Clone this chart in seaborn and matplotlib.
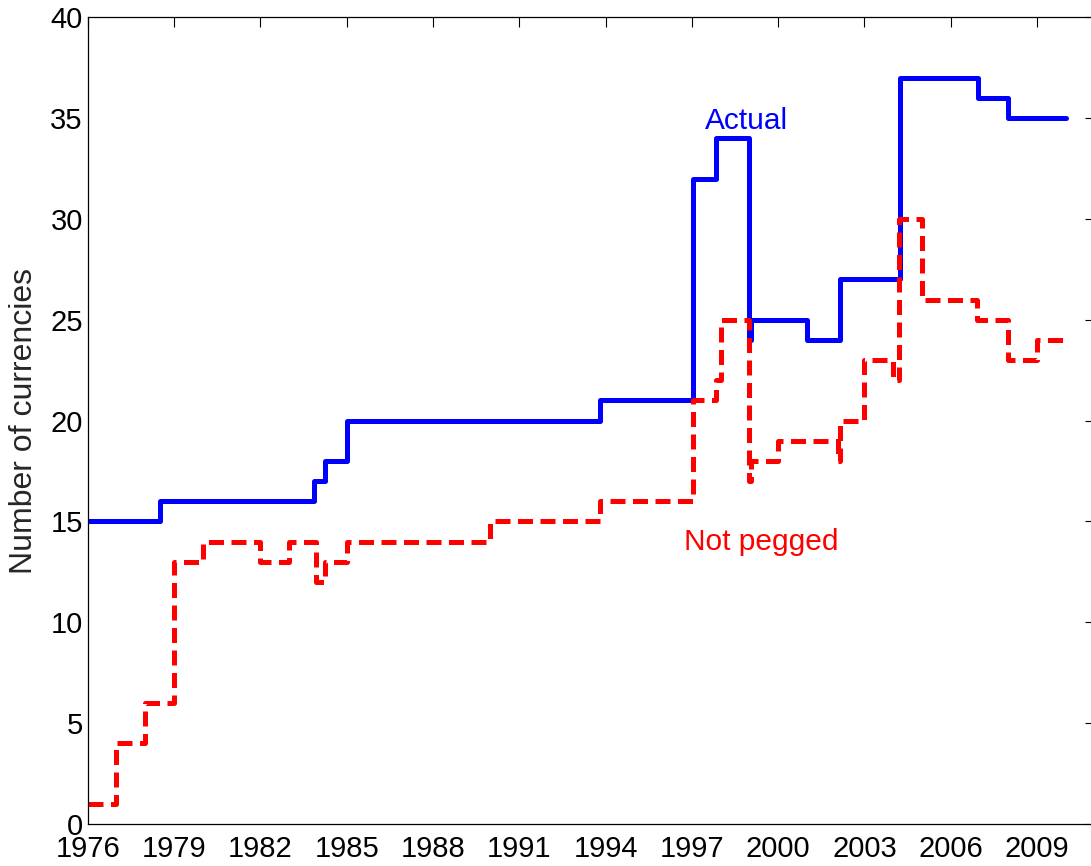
import matplotlib
matplotlib.use("Agg")
import matplotlib.pyplot as plt
import seaborn as sns

# Step data: year at which each level starts, and the level
actual_years = [1976.0, 1978.5, 1983.85, 1984.25, 1985.0, 1993.8, 1997.05, 1997.83,
                1999.0, 1999.06, 2001.0, 2002.15, 2004.23, 2006.96, 2008.0, 2010.0]
actual_count = [15, 16, 17, 18, 20, 21, 32, 34, 24, 25, 24, 27, 37, 36, 35, 35]

notpegged_years = [1976.0, 1977.0, 1978.0, 1979.0, 1980.0, 1982.0, 1983.0, 1983.95,
                   1984.25, 1985.0, 1990.0, 1993.8, 1997.05, 1997.83, 1998.0, 1999.0,
                   1999.06, 2000.0, 2002.09, 2002.15, 2003.0, 2004.0, 2004.21, 2005.0,
                   2006.92, 2008.0, 2009.0, 2009.9]
notpegged_count = [1, 4, 6, 13, 14, 13, 14, 12,
                   13, 14, 15, 16, 21, 22, 25, 17,
                   18, 19, 18, 20, 23, 22, 30, 26,
                   25, 23, 24, 24]

year_ticks = list(range(1976, 2010, 3))
count_ticks = list(range(0, 41, 5))

sns.set_style("white")
plt.rcParams["font.family"] = ["Liberation Sans", "DejaVu Sans"]

fig = plt.figure(figsize=(10.91, 8.66), dpi=100)
ax = fig.add_axes([0.0804, 0.0485, 0.9229, 0.9315])

sns.lineplot(x=actual_years, y=actual_count, drawstyle="steps-post",
             color="#0000ff", linewidth=3.6, ax=ax)
sns.lineplot(x=notpegged_years, y=notpegged_count, drawstyle="steps-post",
             color="#ff0000", linewidth=3.6, ax=ax)
# red dashed line drawn on top of the blue one
ax.get_lines()[1].set_linestyle((0, (3, 1.5)))

ax.text(1998.9, 34.44, "Actual", color="#0000ff", fontsize=21.5,
        ha="center", va="baseline")
ax.text(1999.42, 13.58, "Not pegged", color="#ff0000", fontsize=21.5,
        ha="center", va="baseline")

ax.set_xlim(1976, 2011)
ax.set_ylim(0, 40)
ax.set_xticks(year_ticks)
ax.set_yticks(count_ticks)
ax.set_ylabel("Number of currencies", fontsize=23, labelpad=8)
ax.tick_params(direction="in", top=True, right=True, length=7, width=0.8,
               labelsize=21, colors="black")
ax.tick_params(axis="x", pad=8)
for s in ax.spines.values():
    s.set_linewidth(0.9)
    s.set_color("black")

fig.savefig("out.png", dpi=100)
